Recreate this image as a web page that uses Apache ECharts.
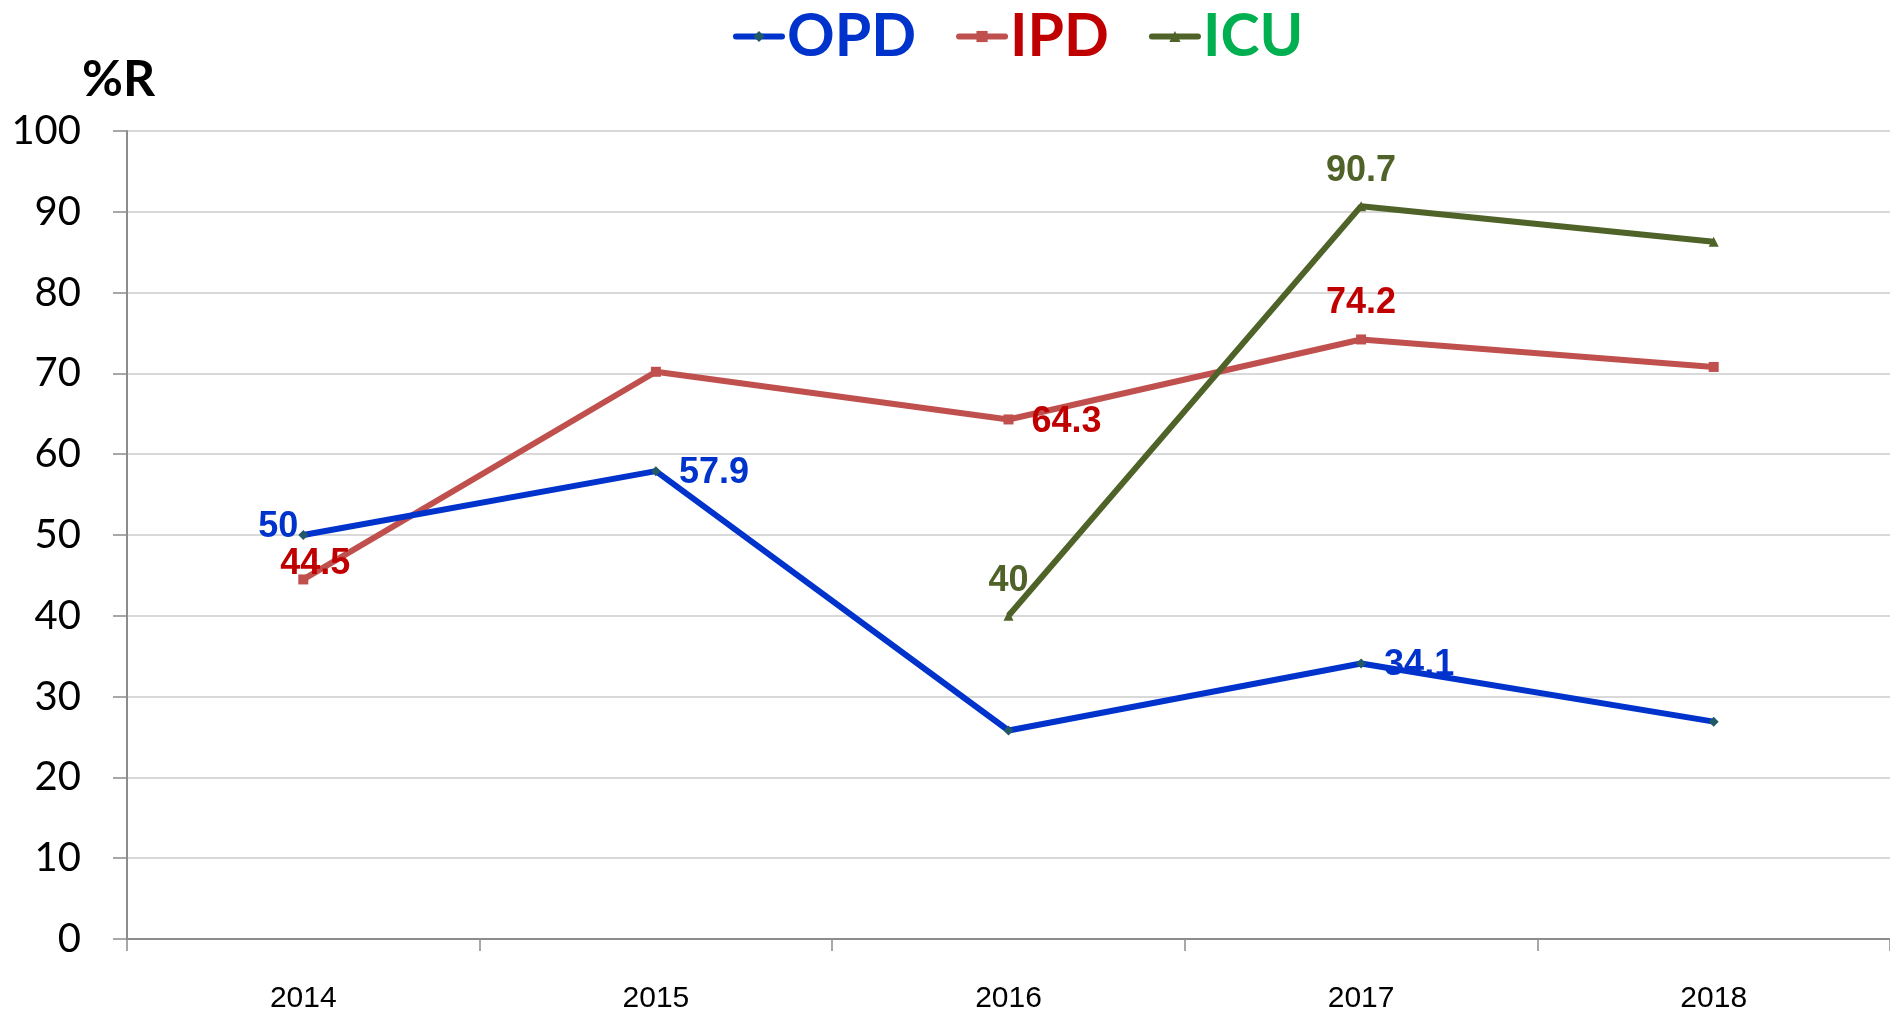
<!DOCTYPE html>
<html>
<head>
<meta charset="utf-8">
<script src="https://cdn.jsdelivr.net/npm/echarts@6/dist/echarts.min.js"></script>
<style>
  html, body { margin: 0; padding: 0; background: #fff; }
  #chart { width: 1890px; height: 1014px; }
</style>
</head>
<body>
<div id="chart"></div>
<script>
var years = ['2014', '2015', '2016', '2017', '2018'];
var opd = [50, 57.9, 25.8, 34.1, 26.9];
var ipd = [44.5, 70.2, 64.3, 74.2, 70.8];
var icu = [null, null, 40, 90.7, 86.3];
var yTicks = [0, 10, 20, 30, 40, 50, 60, 70, 80, 90, 100];

// which points carry a value label, and where
var opdLabels = [
	{ position: 'left', distance: 0, offset: [0, -8] },
	{ position: 'right', distance: 18, offset: [0, 2] },
	null,
	{ position: 'right', distance: 18, offset: [0, 2] },
	null
];
var ipdLabels = [
	{ position: 'top', distance: 2, offset: [12, 10] },
	null,
	{ position: 'right', distance: 18, offset: [0, 3] },
	{ position: 'top', distance: 13 },
	null
];
var icuLabels = [
	null,
	null,
	{ position: 'top', distance: 12 },
	{ position: 'top', distance: 12 },
	null
];

function buildData(values, labels, color) {
	return values.map(function (v, i) {
		var lb = labels[i];
		var item = { value: v };
		if (lb) {
			item.label = {
				show: true,
				position: lb.position,
				distance: lb.distance,
				offset: lb.offset || [0, 0],
				color: color,
				fontFamily: 'Liberation Sans',
				fontWeight: 'bold',
				fontSize: 36
			};
		}
		return item;
	});
}

var chart = echarts.init(document.getElementById('chart'));
var option = {
	animation: false,
	backgroundColor: '#fff',
	legend: {
		top: 2,
		left: 728,
		itemWidth: 46,
		itemHeight: 14,
		itemGap: 40,
		lineStyle: { width: 6, cap: 'round' },
		textStyle: {
			fontFamily: 'Lato',
			fontWeight: 'bold',
			fontSize: 59
		},
		data: [
			{ name: 'OPD', textStyle: { color: '#0033CC' } },
			{ name: 'IPD', textStyle: { color: '#C00000' } },
			{ name: 'ICU', textStyle: { color: '#00B050' } }
		]
	},
	graphic: [{
		type: 'text',
		left: 82,
		top: 55,
		style: {
			text: '%R',
			font: 'bold 50px Lato',
			fill: '#000'
		}
	}],
	grid: {
		left: 127,
		right: 0,
		top: 131,
		bottom: 74
	},
	xAxis: {
		type: 'category',
		data: years,
		boundaryGap: true,
		axisLine: { lineStyle: { color: '#8c8c8c', width: 2 } },
		axisTick: { show: true, length: 12, lineStyle: { color: '#8c8c8c', width: 1.5 } },
		axisLabel: {
			margin: 45,
			color: '#000',
			fontFamily: 'Liberation Sans Narrow, Liberation Sans',
			fontSize: 30
		}
	},
	yAxis: {
		type: 'value',
		min: yTicks[0],
		max: yTicks[yTicks.length - 1],
		interval: 10,
		axisLine: { show: true, lineStyle: { color: '#8c8c8c', width: 2 } },
		axisTick: { show: true, length: 14, lineStyle: { color: '#8c8c8c', width: 1.5 } },
		axisLabel: {
			margin: 46,
			color: '#000',
			fontFamily: 'Lato',
			fontSize: 40
		},
		splitLine: { lineStyle: { color: '#d9d9d9', width: 2 } }
	},
	series: [{
		name: 'OPD',
		type: 'line',
		data: buildData(opd, opdLabels, '#0033CC'),
		symbol: 'diamond',
		symbolSize: 10,
		itemStyle: { color: '#215967' },
		lineStyle: { color: '#0033CC', width: 6 },
		z: 3
	}, {
		name: 'IPD',
		type: 'line',
		data: buildData(ipd, ipdLabels, '#C00000'),
		symbol: 'rect',
		symbolSize: 10,
		itemStyle: { color: '#C0504D' },
		lineStyle: { color: '#C0504D', width: 6 },
		z: 2
	}, {
		name: 'ICU',
		type: 'line',
		data: buildData(icu, icuLabels, '#4F6228'),
		symbol: 'triangle',
		symbolSize: 10,
		itemStyle: { color: '#4F6228' },
		lineStyle: { color: '#4F6228', width: 6 },
		z: 4
	}]
};
chart.setOption(option);
</script>
</body>
</html>
